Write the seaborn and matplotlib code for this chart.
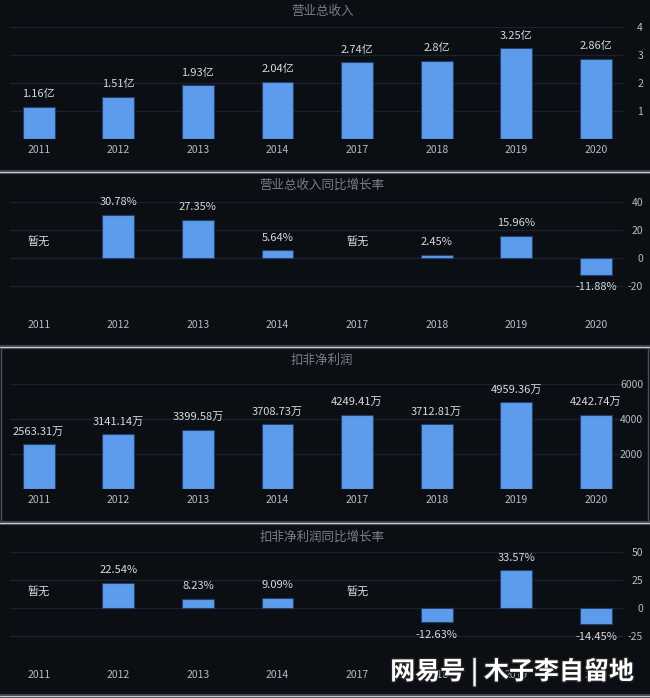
import numpy as np
import pandas as pd
import matplotlib
matplotlib.use("Agg")
import matplotlib.pyplot as plt
from matplotlib.lines import Line2D
from matplotlib.patches import Rectangle
import matplotlib.patheffects as pe
import seaborn as sns

years = ["2011", "2012", "2013", "2014", "2017", "2018", "2019", "2020"]
revenue = [1.16, 1.51, 1.93, 2.04, 2.74, 2.8, 3.25, 2.86]            # 亿
revenue_labels = ["1.16亿", "1.51亿", "1.93亿", "2.04亿", "2.74亿", "2.8亿", "3.25亿", "2.86亿"]
revenue_growth = [np.nan, 30.78, 27.35, 5.64, np.nan, 2.45, 15.96, -11.88]
profit = [2563.31, 3141.14, 3399.58, 3708.73, 4249.41, 3712.81, 4959.36, 4242.74]  # 万
profit_labels = ["2563.31万", "3141.14万", "3399.58万", "3708.73万", "4249.41万", "3712.81万", "4959.36万", "4242.74万"]
profit_growth = [np.nan, 22.54, 8.23, 9.09, np.nan, -12.63, 33.57, -14.45]

titles = ["营业总收入", "营业总收入同比增长率", "扣非净利润", "扣非净利润同比增长率"]
yticks_list = [[0, 1, 2, 3, 4], [-40, -20, 0, 20, 40], [0, 2000, 4000, 6000], [-50, -25, 0, 25, 50]]

sns.set_theme(style="dark")
plt.rcParams['font.family'] = ['Noto Sans CJK SC', 'DejaVu Sans']
plt.rcParams['axes.unicode_minus'] = False

BG = "#0b0e13"
BAR = "#5d9cec"
GRID = "#1d222a"
LABEL = "#d6dae0"
TICK = "#b8bcc3"
TITLE = "#7a7f87"

W, H = 650, 698
fig = plt.figure(figsize=(W / 100, H / 100), dpi=100, facecolor=BG)

# axes pixel boxes: (top, bottom)
boxes = [(27, 139), (202, 314), (384, 489), (552, 664)]
title_y = [11, 185, 360, 537]
left_px, right_px = 10, 623

def fmt_pct(v):
    return f"{v:.2f}%"

datasets = [
    (revenue, revenue_labels),
    (revenue_growth, [None if np.isnan(v) else fmt_pct(v) for v in revenue_growth]),
    (profit, profit_labels),
    (profit_growth, [None if np.isnan(v) else fmt_pct(v) for v in profit_growth]),
]

for i, ((vals, labs), (top, bot)) in enumerate(zip(datasets, boxes)):
    ax = fig.add_axes([left_px / W, 1 - bot / H, (right_px - left_px) / W, (bot - top) / H])
    ax.set_facecolor(BG)
    df = pd.DataFrame({"year": years, "value": vals})
    sns.barplot(data=df, x="year", y="value", order=years, ax=ax, color=BAR,
                saturation=1, width=0.4, edgecolor="#21406e", linewidth=0.8)
    yt = yticks_list[i]
    ax.set_ylim(yt[0], yt[-1])
    ax.set_xlim(-0.36, 7.34)
    ax.set_yticks(yt)
    ax.set_yticklabels([""] + [str(t) for t in yt[1:]])
    ax.yaxis.tick_right()
    ax.tick_params(axis="y", length=0, pad=14.5, labelsize=7.5, labelcolor=TICK)
    for t in ax.get_yticklabels():
        t.set_horizontalalignment("right")
    ax.tick_params(axis="x", length=0, pad=4, labelsize=7.5, labelcolor=TICK)
    ax.set_xlabel("")
    ax.set_ylabel("")
    ax.grid(axis="y", color=GRID, linewidth=1)
    ax.grid(axis="x", visible=False)
    ax.set_axisbelow(True)
    for s in ax.spines.values():
        s.set_visible(False)

    for j, (v, lab) in enumerate(zip(vals, labs)):
        if lab is None:
            ax.annotate("暂无", (j, 0), xytext=(0, 11), textcoords="offset points",
                        ha="center", va="center", fontsize=8, color=LABEL)
        elif v >= 0:
            ax.annotate(lab, (j, v), xytext=(0, 9), textcoords="offset points",
                        ha="center", va="center", fontsize=8, color=LABEL)
        else:
            ax.annotate(lab, (j, v), xytext=(0, -9), textcoords="offset points",
                        ha="center", va="center", fontsize=8, color=LABEL)

    fig.text(322 / W, 1 - title_y[i] / H, titles[i], ha="center", va="center",
             fontsize=9, color=TITLE)

# panel separators
for y in [172, 347, 523, 696]:
    fig.add_artist(Line2D([0, 1], [1 - y / H, 1 - y / H], color="#3c434c", linewidth=3.0))
    fig.add_artist(Line2D([0, 1], [1 - y / H, 1 - y / H], color="#c4c8cc", linewidth=0.9))
# side borders of third panel
fig.add_artist(Rectangle((1 / W, 1 - 523 / H), (W - 3) / W, (523 - 347) / H,
                         fill=False, edgecolor="#4a525c", linewidth=1.0, transform=fig.transFigure))

# watermark
fig.text(512 / W, 1 - 672 / H, "网易号 | 木子李自留地", ha="center", va="center",
         fontsize=18, color="white", fontweight="bold",
         path_effects=[pe.withStroke(linewidth=2, foreground="#222222")])

fig.savefig("out.png", dpi=100, facecolor=BG)
